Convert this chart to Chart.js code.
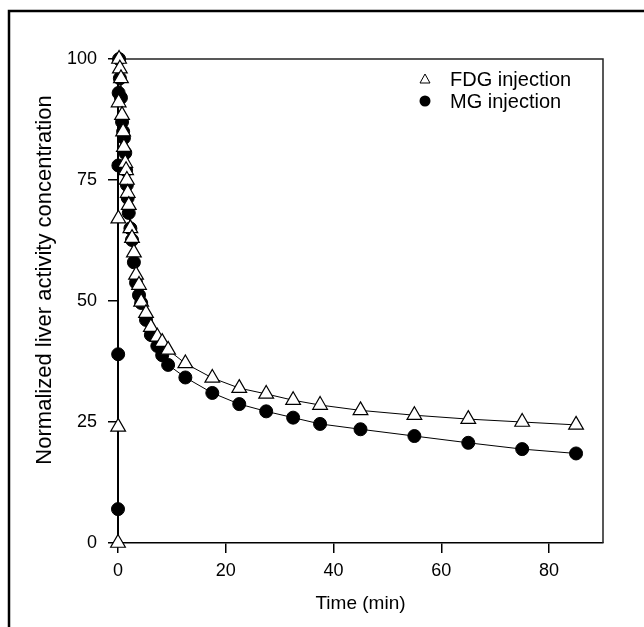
<!DOCTYPE html>
<html>
<head>
<meta charset="utf-8">
<script src="https://cdn.jsdelivr.net/npm/chart.js@4.4.0/dist/chart.umd.min.js"></script>
<style>
  html, body { margin: 0; padding: 0; background: #fff; }
  canvas { display: block; }
</style>
</head>
<body>
<canvas id="liver" width="644" height="627"></canvas>
<script>
// time points (min)
const timeMin = [0, 0.03, 0.07, 0.12, 0.2, 0.35, 0.55, 0.75, 0.95, 1.1, 1.35, 1.5, 1.65, 1.8, 2.0, 2.3, 2.6, 2.95,
  3.35, 3.9, 4.3, 5.2, 6.1, 7.3, 8.2, 9.3, 12.5, 17.5, 22.5, 27.5, 32.5, 37.5, 45, 55, 65, 75, 85];
const fdgValues = [0, 24, 67, 91, 100, 98, 96, 88.4, 85, 81.8, 78.5, 77, 75, 72.3, 69.8, 65, 63, 60,
  55.4, 53.3, 49.8, 47.5, 44.6, 42.6, 41.5, 39.9, 37.1, 34.1, 32, 30.8, 29.5, 28.5, 27.4, 26.4, 25.6, 25, 24.4];
const mgValues = [7, 39, 78, 93, 100, 96, 92, 87, 85, 83.7, 80.6, 77, 74, 71.3, 68.2, 65, 62.6, 58,
  53.8, 51.2, 49.6, 46.1, 43, 40.7, 38.8, 36.8, 34.2, 31, 28.7, 27.2, 25.9, 24.6, 23.5, 22.1, 20.7, 19.4, 18.5];
const xTicks = [0, 20, 40, 60, 80];
const yTicks = [0, 25, 50, 75, 100];
const seriesNames = ['FDG injection', 'MG injection'];
const yTitle = 'Normalized liver activity concentration';

const FONT = "'Liberation Sans', Arial, sans-serif";

function toPoints(vals) {
  return timeMin.map((t, i) => ({ x: t, y: vals[i] }));
}

// outer frame, top/right plot border, y title and the inside legend
const framePlugin = {
  id: 'frame',
  beforeDraw(chart) {
    const ctx = chart.ctx;
    ctx.save();
    ctx.fillStyle = '#fff';
    ctx.fillRect(0, 0, chart.width, chart.height);
    ctx.strokeStyle = '#000';
    ctx.lineWidth = 2.5;
    ctx.beginPath();
    ctx.moveTo(9, chart.height);
    ctx.lineTo(9, 11);
    ctx.lineTo(chart.width, 11);
    ctx.stroke();

    // y title sits a bit above the middle of the axis in the original
    ctx.translate(45, 280);
    ctx.rotate(-Math.PI / 2);
    ctx.font = '22px ' + FONT;
    ctx.fillStyle = '#000';
    ctx.textAlign = 'center';
    ctx.textBaseline = 'middle';
    ctx.fillText(yTitle, 0, 0);
    ctx.restore();
  },
  beforeDatasetsDraw(chart) {
    const { left, top, right, bottom } = chart.chartArea;
    const ctx = chart.ctx;
    ctx.save();
    ctx.strokeStyle = '#222';
    ctx.lineWidth = 1.5;
    ctx.beginPath();
    ctx.moveTo(left, top);
    ctx.lineTo(right, top);
    ctx.lineTo(right, bottom);
    ctx.stroke();
    ctx.restore();
  },
  afterDraw(chart) {
    const ctx = chart.ctx;
    const lx = 425, tx = 450, rows = [79, 101];
    ctx.save();
    ctx.font = '20px ' + FONT;
    ctx.textBaseline = 'middle';
    chart.data.datasets.forEach((ds, i) => {
      const y = rows[i];
      ctx.strokeStyle = '#000';
      ctx.lineWidth = 1;
      ctx.beginPath();
      if (ds.pointStyle === 'triangle') {
        ctx.fillStyle = '#fff';
        ctx.moveTo(lx, y - 5);
        ctx.lineTo(lx + 5, y + 4);
        ctx.lineTo(lx - 5, y + 4);
        ctx.closePath();
        ctx.fill();
        ctx.stroke();
      } else {
        ctx.fillStyle = '#000';
        ctx.arc(lx, y, 5.5, 0, Math.PI * 2);
        ctx.fill();
      }
      ctx.fillStyle = '#000';
      ctx.fillText(ds.label, tx, y + 1);
    });
    ctx.restore();
  }
};

const ctx = document.getElementById('liver').getContext('2d');
new Chart(ctx, {
  type: 'line',
  data: {
    datasets: [{
      label: seriesNames[0],
      data: toPoints(fdgValues),
      borderColor: '#000',
      borderWidth: 1,
      pointStyle: 'triangle',
      pointRadius: 8.5,
      pointBackgroundColor: '#fff',
      pointBorderColor: '#000',
      pointBorderWidth: 1.2,
      tension: 0,
      clip: false
    }, {
      label: seriesNames[1],
      data: toPoints(mgValues),
      borderColor: '#000',
      borderWidth: 1,
      pointStyle: 'circle',
      pointRadius: 6.5,
      pointBackgroundColor: '#000',
      pointBorderColor: '#000',
      pointBorderWidth: 1,
      tension: 0,
      clip: false
    }]
  },
  options: {
    responsive: false,
    animation: false,
    layout: { padding: { top: 59, right: 41, left: 0, bottom: 0 } },
    plugins: { legend: { display: false }, tooltip: { enabled: false } },
    scales: {
      x: {
        type: 'linear',
        min: 0,
        max: 90,
        afterFit: s => { s.height = 84; },
        afterBuildTicks: s => { s.ticks = xTicks.map(v => ({ value: v })); },
        grid: { drawOnChartArea: false, drawTicks: true, tickLength: 10, color: '#000', lineWidth: 1.5 },
        border: { display: true, color: '#000', width: 1.5 },
        ticks: { color: '#000', font: { family: FONT, size: 18 }, padding: 7, maxRotation: 0 },
        title: { display: true, text: 'Time (min)', color: '#000', font: { family: FONT, size: 19 }, padding: { top: 0, bottom: 12 } }
      },
      y: {
        min: 0,
        max: 100,
        afterFit: s => { s.width = 118; },
        afterBuildTicks: s => { s.ticks = yTicks.map(v => ({ value: v })); },
        grid: { drawOnChartArea: false, drawTicks: true, tickLength: 10, color: '#000', lineWidth: 1.5 },
        border: { display: true, color: '#000', width: 2 },
        ticks: { color: '#000', font: { family: FONT, size: 18 }, padding: 11 },
        title: { display: false }
      }
    }
  },
  plugins: [framePlugin]
});
</script>
</body>
</html>
